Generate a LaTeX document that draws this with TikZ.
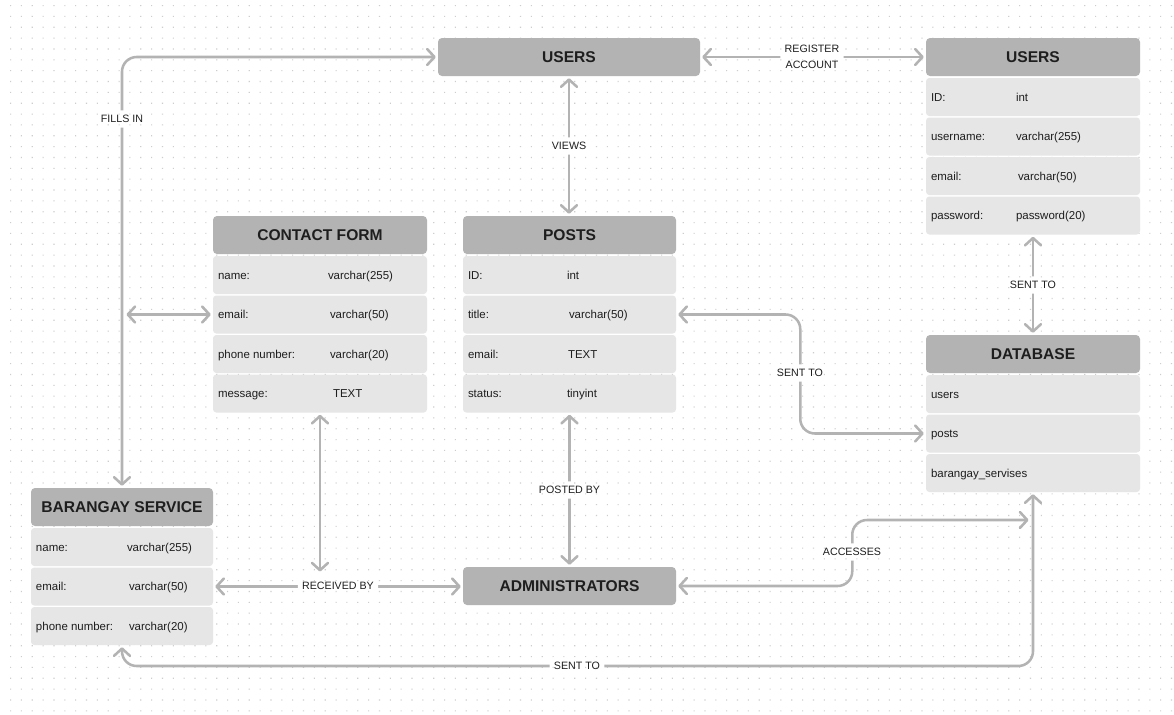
\documentclass[tikz,border=0pt]{standalone}
\usepackage{fontspec}
\setmainfont{Liberation Sans}
\usetikzlibrary{arrows.meta,calc}

\definecolor{headC}{HTML}{B3B3B3}
\definecolor{rowC}{HTML}{E6E6E6}
\definecolor{lineC}{HTML}{B3B3B3}
\definecolor{txtC}{HTML}{1E1E1E}
\definecolor{dotC}{HTML}{CDCDCD}

\pgfdeclarelayer{bg}
\pgfdeclarelayer{lines}
\pgfdeclarelayer{gaps}
\pgfsetlayers{bg,lines,gaps,main}

\tikzset{
  headbox/.style={fill=headC, rounded corners=3pt, minimum height=28.5pt, inner sep=0pt,
    font=\bfseries\fontsize{11.7}{14}\selectfont, text=txtC},
  rowbox/.style={fill=rowC, rounded corners=2.5pt, minimum height=28.5pt, inner sep=0pt},
  rowtext/.style={font=\fontsize{8.6}{10}\selectfont, text=txtC, inner sep=0pt, anchor=base west},
  lbl/.style={font=\fontsize{8}{12}\selectfont, text=txtC, inner xsep=3pt, inner ysep=3.5pt, align=center},
  conn/.style={draw=lineC, line width=1.9pt, rounded corners=11pt, line cap=round,
    {Straight Barb[length=5.5pt,width=12pt,round]}-{Straight Barb[length=5.5pt,width=12pt,round]},
    shorten <=1.5pt, shorten >=1.5pt},
}

% dotted canvas, one path per column
\newcommand{\dotgrid}{%
  \foreach \i in {0,...,107}{
    \fill[dotC] \foreach \j in {0,...,65}{
      (10+\i*10.85,5+\j*10.85) rectangle ++(1.1,1.1)};}}

% table row: name, centre x, centre y, width, field, value offset, value
\newcommand{\erow}[7]{%
  \node[rowbox, minimum width={#4*0.75pt}] (#1) at (#2,#3) {};
  \node[rowtext] (#1-k) at ($(#1.west)+(5,4)$) {#5};
  \node[rowtext] (#1-v) at ($(#1.west)+(#6,4)$) {#7};}
% table row with a single entry
\newcommand{\erowk}[5]{%
  \node[rowbox, minimum width={#4*0.75pt}] (#1) at (#2,#3) {};
  \node[rowtext] (#1-k) at ($(#1.west)+(5,4)$) {#5};}

\begin{document}
\begin{tikzpicture}[x=0.75pt,y=-0.75pt]
\begin{pgfonlayer}{bg}
  \fill[white] (0,0) rectangle (1174,714);
  \dotgrid
\end{pgfonlayer}
\useasboundingbox (0,0) rectangle (1174,714);

% ---- entities ----
\node[headbox, minimum width={262*0.75pt}] (uc) at (569,57) {USERS};

\node[headbox, minimum width={214*0.75pt}] (ur) at (1033,57) {USERS};
\erow{ur-id}{1033}{97}{214}{ID:}{90}{int}
\erow{ur-un}{1033}{136.5}{214}{username:}{90}{varchar(255)}
\erow{ur-em}{1033}{176}{214}{email:}{92}{varchar(50)}
\erow{ur-pw}{1033}{215.5}{214}{password:}{90}{password(20)}

\node[headbox, minimum width={214*0.75pt}] (cf) at (320,235) {CONTACT FORM};
\erow{cf-name}{320}{275}{214}{name:}{115}{varchar(255)}
\erow{cf-email}{320}{314.5}{214}{email:}{117}{varchar(50)}
\erow{cf-phone}{320}{354}{214}{phone number:}{117}{varchar(20)}
\erow{cf-msg}{320}{393.5}{214}{message:}{120}{TEXT}

\node[headbox, minimum width={213*0.75pt}] (po) at (569.5,235) {POSTS};
\erow{po-id}{569.5}{275}{213}{ID:}{104}{int}
\erow{po-title}{569.5}{314.5}{213}{title:}{106}{varchar(50)}
\erow{po-email}{569.5}{354}{213}{email:}{105}{TEXT}
\erow{po-status}{569.5}{393.5}{213}{status:}{104}{tinyint}

\node[headbox, minimum width={214*0.75pt}] (db) at (1033,354) {DATABASE};
\erowk{db-users}{1033}{394}{214}{users}
\erowk{db-posts}{1033}{433.5}{214}{posts}
\erowk{db-bs}{1033}{473}{214}{barangay\_servises}

\node[headbox, minimum width={182*0.75pt}] (bs) at (122,507) {BARANGAY SERVICE};
\erow{bs-name}{122}{547}{182}{name:}{96}{varchar(255)}
\erow{bs-email}{122}{586.5}{182}{email:}{98}{varchar(50)}
\erow{bs-phone}{122}{626}{182}{phone number:}{98}{varchar(20)}

\node[headbox, minimum width={213*0.75pt}] (adm) at (569.5,586) {ADMINISTRATORS};

% ---- free connector ends ----
\coordinate (fe-cf) at (124.5,314.5);
\coordinate (fe-rb) at (320,573.5);
\coordinate (fe-acc) at (1030.5,520);
\coordinate (fe-bot) at (1033,666);

% ---- relationship labels ----
\node[lbl] (l-fill) at (122,119) {FILLS IN};
\node[lbl] (l-reg) at (812,57) {REGISTER\\ACCOUNT};
\node[lbl] (l-views) at (569,146) {VIEWS};
\node[lbl] (l-sent1) at (1033,285) {SENT TO};
\node[lbl] (l-sent2) at (800,373) {SENT TO};
\node[lbl] (l-recv) at (338,586) {RECEIVED BY};
\node[lbl] (l-post) at (569.5,490) {POSTED BY};
\node[lbl] (l-acc) at (852,552) {ACCESSES};
\node[lbl] (l-sent3) at (577,666) {SENT TO};

% ---- connectors ----
\begin{pgfonlayer}{lines}
  \draw[conn] (bs.north) |- (uc.west);
  \draw[conn] (fe-cf) -- (cf-email.west);
  \draw[conn] (uc.east) -- (ur.west);
  \draw[conn] (uc.south) -- (uc.south |- po.north);
  \draw[conn] (ur-pw.south) -- (db.north);
  \draw[conn] (po-title.east) -- ++(124,0) |- (db-posts.west);
  \draw[conn] (cf-msg.south) -- (fe-rb);
  \draw[conn] (bs-email.east) -- (bs-email.east -| adm.west);
  \draw[conn] (po-status.south) -- (adm.north);
  \draw[conn] (adm.east) -- ++(176,0) |- (fe-acc);
  \draw[conn] (bs-phone.south) |- (fe-bot) -- (db-bs.south);
\end{pgfonlayer}

% ---- line breaks behind the labels ----
\begin{pgfonlayer}{gaps}
  \fill[white] \foreach \n in {l-fill,l-reg,l-views,l-sent1,l-sent2,l-recv,l-post,l-acc,l-sent3}{
    (\n.south west) rectangle (\n.north east)};
  \begin{scope}
    \clip \foreach \n in {l-fill,l-reg,l-views,l-sent1,l-sent2,l-recv,l-post,l-acc,l-sent3}{
      (\n.south west) rectangle (\n.north east)};
    \dotgrid
  \end{scope}
\end{pgfonlayer}
\end{tikzpicture}
\end{document}
